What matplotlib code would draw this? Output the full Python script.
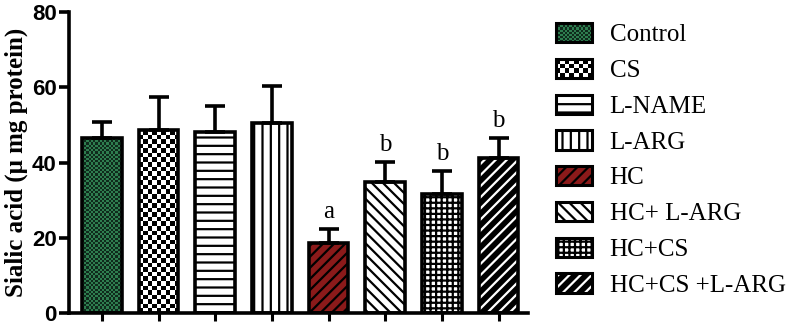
import numpy as np
import matplotlib
matplotlib.use("Agg")
import matplotlib.pyplot as plt
from matplotlib.patches import Patch, Rectangle
from matplotlib.colors import ListedColormap
from matplotlib.legend_handler import HandlerBase

groups = ['Control', 'CS', 'L-NAME', 'L-ARG', 'HC', 'HC+ L-ARG', 'HC+CS', 'HC+CS +L-ARG']
means = [46.4, 48.6, 48.0, 50.4, 18.5, 34.8, 31.5, 41.3]
errs = [4.3, 8.9, 7.0, 9.9, 3.8, 5.4, 6.3, 5.3]
letters = ['', '', '', '', 'a', 'b', 'b', 'b']

# style per bar: (face, hatch colour, hatch, checker cell px or None)
styles = [
    ('#0f2a1c', '#2e7d4f', None, 2.2),
    ('white', 'black', None, 4.6),
    ('white', 'black', '--', None),
    ('white', 'black', '||', None),
    ('#8b1a1a', 'black', '///', None),
    ('white', 'black', '\\\\\\', None),
    ('white', 'black', '+++', None),
    ('black', 'white', '///', None),
]


class CheckerKey:
    def __init__(self, c1, c2, cell):
        self.c1, self.c2, self.cell = c1, c2, cell


class CheckerHandler(HandlerBase):
    def create_artists(self, legend, orig, xd, yd, width, height, fontsize, trans):
        cell = orig.cell * 72 / 100
        nx = max(1, int(round(width / cell)))
        ny = max(1, int(round(height / cell)))
        cw, ch = width / nx, height / ny
        arts = [Rectangle((-xd, -yd), width, height, facecolor=orig.c1, linewidth=0, transform=trans)]
        for r in range(ny):
            for c in range(nx):
                if (r + c) % 2:
                    arts.append(Rectangle((-xd + c * cw, -yd + r * ch), cw, ch,
                                          facecolor=orig.c2, linewidth=0, transform=trans))
        arts.append(Rectangle((-xd, -yd), width, height, fill=False, edgecolor='black',
                              linewidth=2.2, transform=trans))
        return arts


plt.rcParams['hatch.linewidth'] = 1.6
fig = plt.figure(figsize=(7.87, 3.3), dpi=100)
ax = fig.add_axes([0.0877, 0.0515, 0.671 - 0.0877, 0.9636 - 0.0515])
ax.set_xlim(-0.58, 7.52)
ax.set_ylim(0, 80)

x = np.arange(len(groups))
w = 0.7
handles = []
for i, (face, hc, hatch, cell) in enumerate(styles):
    if cell is None:
        ax.bar(x[i], means[i], w, color=face, edgecolor=hc, hatch=hatch, linewidth=0, zorder=2)
        hp = Patch(facecolor=face, edgecolor=hc, hatch=hatch, linewidth=0)
        bp = Patch(fill=False, edgecolor='black', linewidth=2.2)
        handles.append((hp, bp))
    else:
        p0 = ax.transData.transform((x[i] - w / 2, 0))
        p1 = ax.transData.transform((x[i] + w / 2, means[i]))
        nx = max(1, int(round((p1[0] - p0[0]) / cell)))
        ny = max(1, int(round((p1[1] - p0[1]) / cell)))
        grid = (np.add.outer(np.arange(ny), np.arange(nx)) % 2)
        ax.imshow(grid, cmap=ListedColormap([face, hc]), interpolation='nearest',
                  extent=(x[i] - w / 2, x[i] + w / 2, 0, means[i]), aspect='auto', zorder=2)
        handles.append(CheckerKey(face, hc, cell))
    ax.bar(x[i], means[i], w, fill=False, edgecolor='black', linewidth=2.6, zorder=3)

ax.set_aspect('auto')
ax.set_xlim(-0.58, 7.52)
ax.set_ylim(0, 80)

ax.errorbar(x, means, yerr=[np.zeros(len(x)), errs], fmt='none', ecolor='black',
            elinewidth=2.6, capsize=7, capthick=2.6, zorder=4)

for i, t in enumerate(letters):
    if t:
        ax.text(x[i], means[i] + errs[i] + 1.5, t, ha='center', va='bottom',
                family='Liberation Serif', fontsize=18)

for s in ['top', 'right']:
    ax.spines[s].set_visible(False)
for s in ['left', 'bottom']:
    ax.spines[s].set_linewidth(2.6)

ax.set_yticks([0, 20, 40, 60, 80])
ax.set_xticks(x)
ax.set_xticklabels([])
ax.tick_params(axis='y', length=7, width=2.6, labelsize=16, pad=2)
ax.tick_params(axis='x', length=6, width=2.2)
for lb in ax.get_yticklabels():
    lb.set_family('Liberation Sans')
    lb.set_fontweight('bold')

ax.set_ylabel('Sialic acid (\u03bc mg protein)', family='Liberation Serif',
              fontweight='bold', fontsize=18, labelpad=3)

leg = fig.legend(handles, groups, loc='upper left', bbox_to_anchor=(0.700, 0.945),
                 frameon=False, prop={'family': 'Liberation Serif', 'size': 18},
                 handlelength=1.45, handleheight=0.8, handletextpad=0.7, labelspacing=0.5,
                 borderaxespad=0, borderpad=0.2,
                 handler_map={CheckerKey: CheckerHandler()})

fig.savefig('out.png', dpi=100)
